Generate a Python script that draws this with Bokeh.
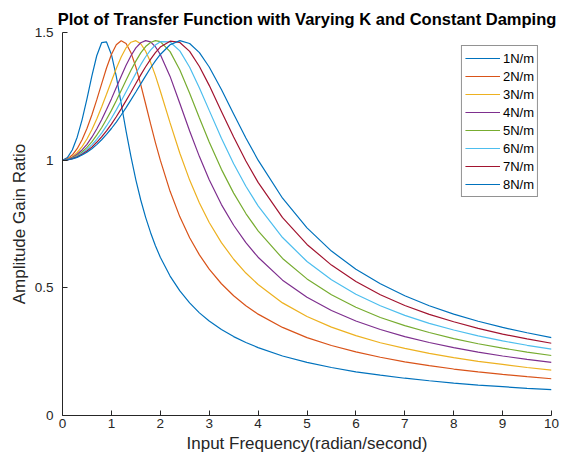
from bokeh.plotting import figure
from bokeh.models import Range1d, Legend, LegendItem, FixedTicker
from bokeh.embed import file_html
from bokeh.resources import INLINE

# ---- data ----
freq = [0, 0.1, 0.2, 0.3, 0.4, 0.5, 0.6, 0.7, 0.8, 0.9, 1.0, 1.1, 1.2, 1.3, 1.4, 1.5,
        1.6, 1.7, 1.8, 1.9, 2.0, 2.2, 2.4, 2.6, 2.8, 3.0, 3.25, 3.5, 3.75, 4.0, 4.5,
        5.0, 5.5, 6.0, 6.5, 7.0, 7.5, 8.0, 8.5, 9.0, 9.5, 10.0]

gain_1N = [1.000, 1.010, 1.040, 1.090, 1.158, 1.240, 1.329, 1.409, 1.460, 1.463, 1.414,
           1.328, 1.222, 1.114, 1.014, 0.923, 0.844, 0.776, 0.717, 0.665, 0.620, 0.546,
           0.488, 0.441, 0.402, 0.370, 0.337, 0.309, 0.286, 0.266, 0.233, 0.208, 0.188,
           0.171, 0.158, 0.146, 0.136, 0.127, 0.119, 0.113, 0.106, 0.101]
gain_2N = [1.000, 1.005, 1.020, 1.045, 1.080, 1.124, 1.177, 1.236, 1.299, 1.361, 1.414,
           1.452, 1.468, 1.457, 1.421, 1.365, 1.296, 1.220, 1.143, 1.069, 1.000, 0.878,
           0.778, 0.696, 0.629, 0.573, 0.516, 0.469, 0.430, 0.397, 0.345, 0.305, 0.274,
           0.249, 0.228, 0.210, 0.195, 0.182, 0.171, 0.161, 0.152, 0.144]
gain_3N = [1.000, 1.003, 1.013, 1.030, 1.053, 1.083, 1.119, 1.161, 1.208, 1.258, 1.309,
           1.359, 1.404, 1.440, 1.462, 1.468, 1.456, 1.427, 1.384, 1.331, 1.271, 1.146,
           1.027, 0.922, 0.832, 0.756, 0.677, 0.612, 0.558, 0.513, 0.441, 0.388, 0.346,
           0.313, 0.285, 0.263, 0.243, 0.227, 0.212, 0.200, 0.188, 0.178]
gain_4N = [1.000, 1.003, 1.010, 1.023, 1.040, 1.062, 1.090, 1.122, 1.158, 1.198, 1.240,
           1.285, 1.329, 1.372, 1.409, 1.440, 1.460, 1.468, 1.463, 1.444, 1.414, 1.328,
           1.222, 1.114, 1.014, 0.923, 0.826, 0.745, 0.677, 0.620, 0.530, 0.463, 0.411,
           0.370, 0.337, 0.309, 0.286, 0.266, 0.248, 0.233, 0.220, 0.208]
gain_5N = [1.000, 1.002, 1.008, 1.018, 1.032, 1.050, 1.072, 1.098, 1.127, 1.160, 1.195,
           1.233, 1.273, 1.313, 1.352, 1.388, 1.420, 1.445, 1.461, 1.468, 1.464, 1.425,
           1.353, 1.262, 1.165, 1.071, 0.964, 0.871, 0.791, 0.723, 0.615, 0.535, 0.473,
           0.424, 0.384, 0.352, 0.325, 0.301, 0.281, 0.264, 0.248, 0.235]
gain_6N = [1.000, 1.002, 1.007, 1.015, 1.027, 1.042, 1.060, 1.081, 1.106, 1.134, 1.164,
           1.197, 1.232, 1.268, 1.304, 1.340, 1.374, 1.405, 1.431, 1.451, 1.464, 1.463,
           1.428, 1.364, 1.283, 1.195, 1.086, 0.986, 0.898, 0.821, 0.697, 0.603, 0.532,
           0.475, 0.430, 0.392, 0.361, 0.335, 0.312, 0.292, 0.275, 0.260]
gain_7N = [1.000, 1.001, 1.006, 1.013, 1.023, 1.036, 1.051, 1.070, 1.091, 1.115, 1.141,
           1.170, 1.201, 1.233, 1.266, 1.300, 1.334, 1.366, 1.395, 1.421, 1.443, 1.466,
           1.461, 1.426, 1.367, 1.293, 1.191, 1.091, 0.997, 0.913, 0.775, 0.670, 0.589,
           0.525, 0.473, 0.431, 0.396, 0.367, 0.341, 0.319, 0.300, 0.283]
gain_8N = [1.000, 1.001, 1.005, 1.011, 1.020, 1.031, 1.045, 1.061, 1.080, 1.101, 1.124,
           1.149, 1.177, 1.206, 1.236, 1.267, 1.299, 1.330, 1.361, 1.389, 1.414, 1.452,
           1.468, 1.457, 1.421, 1.365, 1.277, 1.181, 1.087, 1.000, 0.851, 0.735, 0.644,
           0.573, 0.516, 0.469, 0.430, 0.397, 0.369, 0.345, 0.324, 0.305]

series_labels = ["1N/m", "2N/m", "3N/m", "4N/m", "5N/m", "6N/m", "7N/m", "8N/m"]
series_values = [gain_1N, gain_2N, gain_3N, gain_4N, gain_5N, gain_6N, gain_7N, gain_8N]

x_ticks = [0, 1, 2, 3, 4, 5, 6, 7, 8, 9, 10]
y_ticks = [0, 0.5, 1, 1.5]
y_tick_labels = ["0", "0.5", "1", "1.5"]

title_text = "Plot of Transfer Function with Varying K and Constant Damping"
x_label = "Input Frequency(radian/second)"
y_label = "Amplitude Gain Ratio"

# ---- styling ----
colors = ["#0072BD", "#D95319", "#EDB120", "#7E2F8E",
          "#77AC30", "#4DBEEE", "#A2142F", "#0072BD"]
FONT = "Liberation Sans"
AX = "#262626"

p = figure(width=563, height=460, output_backend="svg", toolbar_location=None,
           x_range=Range1d(0, 10), y_range=Range1d(0, 1.5),
           min_border_left=62, min_border_right=12, min_border_top=32,
           min_border_bottom=45)

p.title.text = title_text
p.title.align = "center"
p.title.text_font = FONT
p.title.text_font_size = "16.5px"
p.title.text_font_style = "bold"
p.title.text_color = "#000000"

p.outline_line_color = None
p.grid.visible = False
p.background_fill_color = "white"
p.border_fill_color = "white"

p.xaxis.ticker = FixedTicker(ticks=x_ticks)
p.yaxis.ticker = FixedTicker(ticks=y_ticks)
p.yaxis.major_label_overrides = {t: l for t, l in zip(y_ticks, y_tick_labels)}

for ax in (p.xaxis[0], p.yaxis[0]):
    ax.axis_line_color = AX
    ax.major_tick_line_color = AX
    ax.major_tick_in = 5
    ax.major_tick_out = 0
    ax.minor_tick_line_color = None
    ax.major_label_text_font = FONT
    ax.major_label_text_font_size = "13.5px"
    ax.major_label_text_color = AX
    ax.axis_label_text_font = FONT
    ax.axis_label_text_font_size = "17px"
    ax.axis_label_text_font_style = "normal"
    ax.axis_label_text_color = AX

p.xaxis.axis_label = x_label
p.yaxis.axis_label = y_label
p.xaxis.major_label_standoff = 3
p.yaxis.major_label_standoff = 9
p.xaxis.axis_label_standoff = 3
p.yaxis.axis_label_standoff = 3

items = []
for lab, vals, col in zip(series_labels, series_values, colors):
    r = p.line(freq, vals, line_color=col, line_width=1.2)
    items.append(LegendItem(label=lab, renderers=[r]))

legend = Legend(items=items, location="top_right")
legend.border_line_color = AX
legend.border_line_width = 1
legend.background_fill_color = "white"
legend.background_fill_alpha = 1
legend.label_text_font = FONT
legend.label_text_font_size = "13px"
legend.label_text_color = "#000000"
legend.glyph_width = 35
legend.glyph_height = 18
legend.label_height = 18
legend.label_standoff = 3
legend.spacing = 0
legend.padding = 3
legend.margin = 13
p.add_layout(legend)

open("out.html", "w").write(file_html(p, INLINE))
